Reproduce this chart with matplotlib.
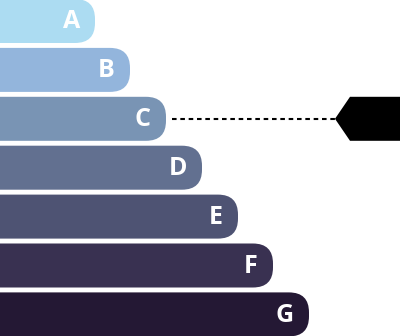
import matplotlib
matplotlib.use("Agg")
import matplotlib.pyplot as plt
from matplotlib.patches import FancyBboxPatch, Polygon

# Energy rating classes and bar lengths (pixels in the 400x336 canvas)
labels = ["A", "B", "C", "D", "E", "F", "G"]
lengths = [95, 130, 166, 202, 238, 273, 309]
colors = ["#acdcf2", "#93b5dc", "#7994b4", "#627090", "#4e5373", "#393151", "#241834"]
current = "C"

fig = plt.figure(figsize=(4, 3.36), dpi=100)
ax = fig.add_axes([0, 0, 1, 1])
ax.set_xlim(0, 400)
ax.set_ylim(336, 0)
ax.axis("off")

pitch = 48.9
height = 44
top0 = -1
radius = 20

for i, (lab, w, c) in enumerate(zip(labels, lengths, colors)):
    y0 = top0 + i * pitch
    box = FancyBboxPatch((-40, y0 + radius), w + 40 - radius, height - 2 * radius,
                         boxstyle=f"round,pad={radius}", fc=c, ec="none",
                         mutation_aspect=1)
    ax.add_patch(box)
    ax.text(w - 15, y0 + height / 2 + 1, lab, color="white", fontsize=18,
            fontweight="bold", family=["Open Sans", "DejaVu Sans"],
            ha="right", va="center")

# indicator for current class
k = labels.index(current)
yc = top0 + k * pitch + height / 2
ax.plot([lengths[k] + 6, 335], [yc, yc], color="black", lw=1.5,
        linestyle=(0, (2.2, 1.8)))
yt = top0 + k * pitch
arrow = Polygon([(335, yc), (350, yt), (400, yt), (400, yt + height),
                 (350, yt + height)], closed=True, fc="black", ec="none")
ax.add_patch(arrow)

fig.savefig("out.png", dpi=100)
